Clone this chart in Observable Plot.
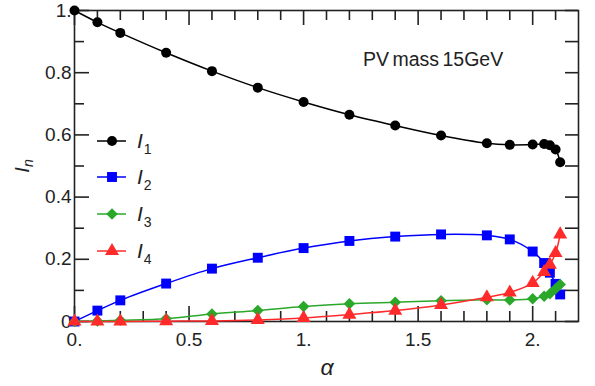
<!DOCTYPE html>
<html>
<head>
<meta charset="utf-8">
<script src="https://cdn.jsdelivr.net/npm/d3@7"></script>
<script src="https://cdn.jsdelivr.net/npm/@observablehq/plot@0.6"></script>
<style>
  html, body { margin: 0; padding: 0; background: #fff; }
  #wrap { position: relative; width: 595px; height: 386px; font-family: "Liberation Sans", Arial, sans-serif; }
  #overlay { position: absolute; left: 0; top: 0; pointer-events: none; overflow: visible; }
</style>
</head>
<body>
<div id="wrap"></div>
<script>
// ---- data ----
const alpha = [0, 0.1, 0.2, 0.4, 0.6, 0.8, 1.0, 1.2, 1.4, 1.6, 1.8, 1.9, 2.0, 2.05, 2.075, 2.1, 2.12];
const I1 = [1.0, 0.962, 0.928, 0.864, 0.805, 0.752, 0.706, 0.665, 0.630, 0.598, 0.573, 0.568, 0.569, 0.571, 0.567, 0.553, 0.512];
const I2 = [0, 0.035, 0.068, 0.122, 0.170, 0.205, 0.236, 0.259, 0.273, 0.280, 0.277, 0.264, 0.225, 0.188, 0.157, 0.121, 0.087];
const I3 = [0, 0.002, 0.004, 0.009, 0.024, 0.035, 0.048, 0.057, 0.062, 0.067, 0.070, 0.069, 0.073, 0.081, 0.089, 0.105, 0.119];
const I4 = [0, 0, 0, 0.001, 0.002, 0.005, 0.011, 0.022, 0.035, 0.053, 0.078, 0.093, 0.124, 0.159, 0.183, 0.220, 0.280];

const seriesNames = ["I1", "I2", "I3", "I4"];
const seriesSubs = ["1", "2", "3", "4"];
const seriesColors = ["#000000", "#0000ff", "#2aa82a", "#ff2b2b"];
const seriesSymbols = ["circle", "square", "diamond2", "triangle"];
const seriesR = [5, 5.6, 5.2, 5.2];

const xTickValues = [0, 0.5, 1, 1.5, 2];
const xTickLabels = ["0.", "0.5", "1.", "1.5", "2."];
const yTickValues = [0, 0.2, 0.4, 0.6, 0.8, 1];
const yTickLabels = ["0", "0.2", "0.4", "0.6", "0.8", "1."];
const xMinor = [0.1, 0.2, 0.3, 0.4, 0.6, 0.7, 0.8, 0.9, 1.1, 1.2, 1.3, 1.4, 1.6, 1.7, 1.8, 1.9, 2.1];
const yMinor = [0.1, 0.3, 0.5, 0.7, 0.9];

const annotation = "PV mass 15GeV";
const xLabel = "α";

// ---- build table ----
const series = [I1, I2, I3, I4];
const rows = [];
series.forEach((vals, k) => alpha.forEach((a, i) => rows.push({alpha: a, value: vals[i], s: k})));

const W = 595, H = 386;
const mL = 74, mR = 17, mT = 10, mB = 65;
const innerH = H - mT - mB;
const major = 15, minor = 10, rightLen = 13;
const ink = "#222";

const marks = [
  Plot.frame({stroke: ink, strokeWidth: 1.6}),
  // bottom ticks (inward)
  Plot.tickX(xTickValues, {x: d => d, insetTop: innerH - major, stroke: ink, strokeWidth: 1.6}),
  Plot.tickX(xMinor, {x: d => d, insetTop: innerH - minor, stroke: ink, strokeWidth: 1.6}),
  // top ticks
  Plot.tickX(xTickValues, {x: d => d, insetBottom: innerH - major, stroke: ink, strokeWidth: 1.6}),
  Plot.tickX(xMinor, {x: d => d, insetBottom: innerH - minor, stroke: ink, strokeWidth: 1.6}),
  // left ticks
  Plot.tickY(yTickValues, {y: d => d, insetRight: (W - mL - mR) - major, stroke: ink, strokeWidth: 1.6}),
  Plot.tickY(yMinor, {y: d => d, insetRight: (W - mL - mR) - minor, stroke: ink, strokeWidth: 1.6}),
  // right ticks
  Plot.tickY(yTickValues.concat(yMinor), {y: d => d, insetLeft: (W - mL - mR) - rightLen, stroke: ink, strokeWidth: 1.6}),
  Plot.axisX({ticks: xTickValues, tickSize: 0, tickPadding: 11, tickFormat: (d) => xTickLabels[xTickValues.indexOf(d)], fontSize: 19, label: null}),
  Plot.axisY({ticks: yTickValues, tickSize: 0, tickPadding: 3, tickFormat: (d) => yTickLabels[yTickValues.indexOf(d)], fontSize: 19, label: null}),
];
series.forEach((vals, k) => {
  const data = rows.filter(r => r.s === k);
  marks.push(Plot.line(data, {x: "alpha", y: "value", stroke: seriesColors[k], strokeWidth: 1.5, curve: "catmull-rom"}));
});
series.forEach((vals, k) => {
  const data = rows.filter(r => r.s === k);
  marks.push(Plot.dot(data, {x: "alpha", y: "value", fill: seriesColors[k], stroke: "none", symbol: seriesSymbols[k], r: seriesR[k]}));
});

const chart = Plot.plot({
  width: W, height: H,
  marginLeft: mL, marginRight: mR, marginTop: mT, marginBottom: mB,
  x: {domain: [0, 2.2]},
  y: {domain: [0, 1]},
  style: {fontFamily: "'Liberation Sans', Arial, sans-serif", fontSize: "19px", color: ink, background: "white", overflow: "visible"},
  marks
});
const wrap = document.getElementById("wrap");
wrap.appendChild(chart);

// ---- overlay: axis titles, legend, annotation ----
const svg = d3.select(wrap).append("svg").attr("id", "overlay").attr("width", W).attr("height", H)
  .style("font-family", "'Liberation Sans', Arial, sans-serif");

svg.append("text").attr("x", 327).attr("y", 375).attr("text-anchor", "middle")
  .attr("font-size", 23).attr("font-style", "italic").attr("fill", ink).text(xLabel);

const yl = svg.append("text").attr("transform", "translate(29,166) rotate(-90)").attr("text-anchor", "middle")
  .attr("font-size", 20).attr("fill", ink);
yl.append("tspan").attr("font-style", "italic").text("I");
yl.append("tspan").attr("font-size", 14).attr("font-style", "italic").attr("dy", 4).text("n");

svg.append("text").attr("x", 363).attr("y", 66).attr("font-size", 19.5).attr("fill", ink)
  .attr("word-spacing", -2).text(annotation);

const legY = [141, 177, 214, 251];
seriesNames.forEach((n, k) => {
  const g = svg.append("g").attr("transform", `translate(0,${legY[k]})`);
  g.append("line").attr("x1", 97).attr("x2", 126).attr("y1", 0).attr("y2", 0)
    .attr("stroke", seriesColors[k]).attr("stroke-width", 1.5);
  const sym = {circle: d3.symbolCircle, square: d3.symbolSquare, diamond2: d3.symbolDiamond2, triangle: d3.symbolTriangle}[seriesSymbols[k]];
  g.append("path").attr("transform", "translate(112,0)")
    .attr("d", d3.symbol(sym, Math.PI * seriesR[k] * seriesR[k])()).attr("fill", seriesColors[k]);
  const t = g.append("text").attr("x", 137).attr("y", 7).attr("font-size", 21).attr("fill", ink);
  t.append("tspan").attr("font-style", "italic").text("I");
  t.append("tspan").attr("font-size", 14).attr("dy", 6).attr("dx", 1).text(seriesSubs[k]);
});
</script>
</body>
</html>
